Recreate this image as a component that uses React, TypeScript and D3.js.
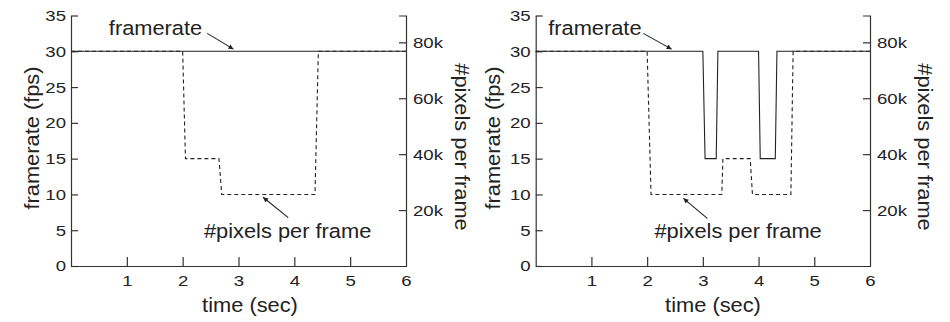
import { useEffect, useRef } from "react";
import * as d3 from "d3";

// time (sec) / framerate (fps) / #pixels per frame
const leftFpsTime = [0, 6];
const leftFps = [30, 30];
const leftPixTime = [0, 2.0, 2.05, 2.65, 2.7, 4.37, 4.43, 6];
const leftPix = [76800, 76800, 38400, 38400, 25600, 25600, 76800, 76800];

const rightFpsTime = [0, 3.0, 3.04, 3.24, 3.27, 4.0, 4.03, 4.3, 4.33, 6];
const rightFps = [30, 30, 15, 15, 30, 30, 15, 15, 30, 30];
const rightPixTime = [0, 2.0, 2.07, 3.34, 3.36, 3.85, 3.89, 4.58, 4.62, 6];
const rightPix = [76800, 76800, 25600, 25600, 38400, 38400, 25600, 25600, 76800, 76800];

const fpsTicks = [0, 5, 10, 15, 20, 25, 30, 35];
const pixTicks = [20000, 40000, 60000, 80000];
const timeTicks = [1, 2, 3, 4, 5, 6];

const FONT = "'Liberation Sans', Arial, Helvetica, sans-serif";
const SX_TICK = 1.2; // the reference font is set wide
const SX = 1.12;
const INK = "#222";

const panels = [
  {
    left: 71, right: 406, yTitleX: 32, y2TitleX: 462, xTitleX: 250,
    fpsT: leftFpsTime, fps: leftFps, pixT: leftPixTime, pix: leftPix,
    notes: [
      { label: "framerate", textT: 2.35, textF: 32.3, anchor: "end", from: [2.44, 32.5], to: [2.91, 30.3] },
      { label: "#pixels per frame", textT: 2.38, textF: 3.9, anchor: "start", from: [3.89, 6.75], to: [3.44, 9.6] },
    ],
  },
  {
    left: 535.7, right: 870, yTitleX: 493, y2TitleX: 925, xTitleX: 713,
    fpsT: rightFpsTime, fps: rightFps, pixT: rightPixTime, pix: rightPix,
    notes: [
      { label: "framerate", textT: 1.9, textF: 32.3, anchor: "end", from: [1.93, 32.5], to: [2.44, 30.3] },
      { label: "#pixels per frame", textT: 2.13, textF: 3.9, anchor: "start", from: [3.08, 6.66], to: [2.65, 9.45] },
    ],
  },
];

export default function App() {
  const svgRef = useRef<SVGSVGElement>(null);

  useEffect(() => {
    const svg = d3.select(svgRef.current);
    svg.selectAll("*").remove();
    const top = 15.5, bottom = 266;

    svg.append("defs").append("marker")
      .attr("id", "arr").attr("viewBox", "0 0 10 10").attr("refX", 10).attr("refY", 5)
      .attr("markerWidth", 7).attr("markerHeight", 5).attr("markerUnits", "userSpaceOnUse")
      .attr("orient", "auto")
      .append("path").attr("d", "M0,0L10,5L0,10z").attr("fill", INK);

    panels.forEach(p => {
      const x = d3.scaleLinear().domain([0, 6]).range([p.left, p.right]);
      const y = d3.scaleLinear().domain([0, 35]).range([bottom, top]);
      const y2 = d3.scaleLinear().domain([0, 35 * 76800 / 30]).range([bottom, top]);
      const g = svg.append("g");

      const styleAxis = (a: any, dx: number, anchor: string) => {
        a.select(".domain").attr("stroke", "#333").attr("stroke-width", 1.2);
        a.selectAll(".tick line").attr("stroke", "#333").attr("stroke-width", 1.2);
        a.selectAll("text").attr("x", null).attr("fill", INK)
          .style("font-family", FONT).style("font-size", "15.5px")
          .attr("text-anchor", anchor)
          .attr("transform", `translate(${dx},0) scale(${SX_TICK},1)`);
      };

      const ax = g.append("g").attr("transform", `translate(0,${bottom})`)
        .call(d3.axisBottom(x).tickValues(timeTicks).tickSize(-9).tickSizeOuter(0).tickPadding(9).tickFormat(d3.format("d")));
      styleAxis(ax, 0, "middle");
      ax.selectAll(".tick").filter((d: any) => d === 6).select("line").remove();

      const ay = g.append("g").attr("transform", `translate(${p.left},0)`)
        .call(d3.axisLeft(y).tickValues(fpsTicks).tickSize(-7).tickSizeOuter(0).tickFormat(d3.format("d")));
      styleAxis(ay, -5, "end");

      const ay2 = g.append("g").attr("transform", `translate(${p.right},0)`)
        .call(d3.axisRight(y2).tickValues(pixTicks).tickSize(-7).tickSizeOuter(-7).tickFormat((d: any) => `${d / 1000}k`));
      styleAxis(ay2, 7, "start");

      // series
      const fpsLine = d3.line<number>().x((_, i) => x(p.fpsT[i])).y(d => y(d));
      const pixLine = d3.line<number>().x((_, i) => x(p.pixT[i])).y(d => y2(d));
      g.append("path").attr("d", pixLine(p.pix)).attr("fill", "none")
        .attr("stroke", INK).attr("stroke-width", 1.1).attr("stroke-dasharray", "4,3");
      g.append("path").attr("d", fpsLine(p.fps)).attr("fill", "none")
        .attr("stroke", INK).attr("stroke-width", 1.1);

      // axis titles
      const title = (t: string, tx: number, ty: number, rot: number) =>
        g.append("text").text(t).attr("text-anchor", "middle").attr("dominant-baseline", "central")
          .attr("transform", `translate(${tx},${ty}) rotate(${rot}) scale(${SX},1)`)
          .attr("fill", INK).style("font-family", FONT).style("font-size", "19.5px");
      title("framerate (fps)", p.yTitleX, 138, -90);
      title("#pixels per frame", p.y2TitleX, 147, 90);
      g.append("text").text("time (sec)").attr("text-anchor", "middle")
        .attr("transform", `translate(${p.xTitleX},312) scale(${SX},1)`)
        .attr("fill", INK).style("font-family", FONT).style("font-size", "19.5px");

      // annotations
      p.notes.forEach((n: any) => {
        g.append("text").text(n.label).attr("text-anchor", n.anchor)
          .attr("transform", `translate(${x(n.textT)},${y(n.textF)}) scale(${SX},1)`)
          .attr("fill", INK).style("font-family", FONT).style("font-size", "19.5px");
        g.append("line")
          .attr("x1", x(n.from[0])).attr("y1", y(n.from[1]))
          .attr("x2", x(n.to[0])).attr("y2", y(n.to[1]))
          .attr("stroke", INK).attr("stroke-width", 1.1).attr("marker-end", "url(#arr)");
      });
    });
  }, []);

  return (
    <svg ref={svgRef} width={950} height={322}
      style={{ position: "absolute", left: 0, top: 0, background: "#fff" }} />
  );
}
